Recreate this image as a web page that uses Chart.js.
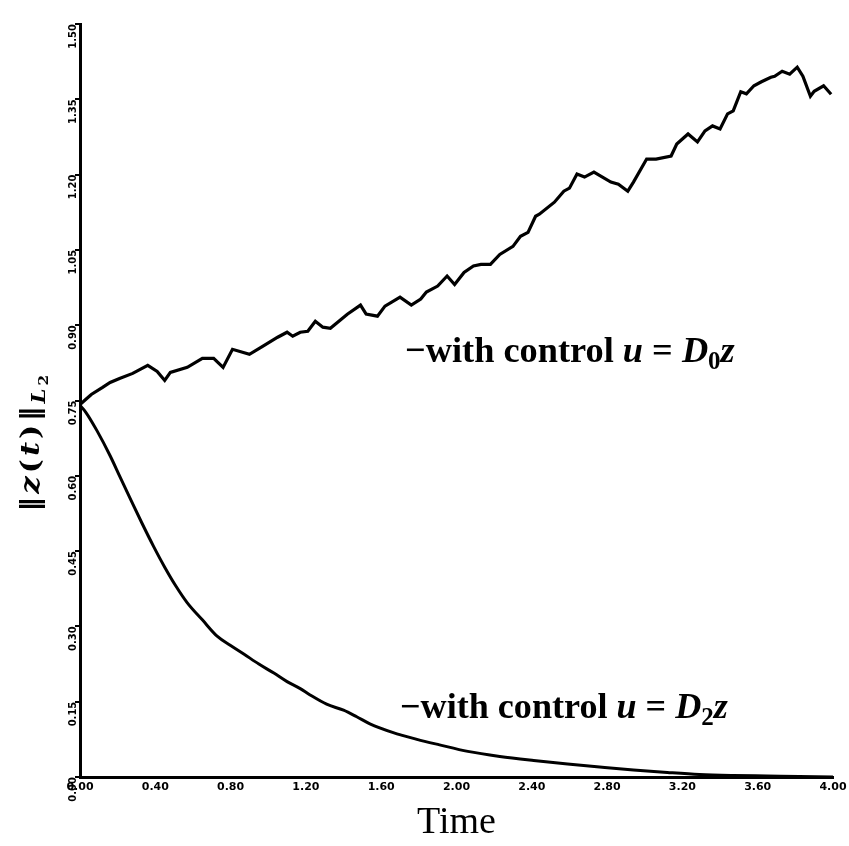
<!DOCTYPE html>
<html><head><meta charset="utf-8">
<script src="https://cdn.jsdelivr.net/npm/chart.js@4.4.0/dist/chart.umd.min.js"></script>
<style>html,body{margin:0;padding:0;background:#fff;}</style>
</head><body>
<canvas id="c" width="849" height="846"></canvas>
<script>
// ---- data ----
const timeUpper = [0,0.03,0.06,0.12,0.16,0.21,0.28,0.36,0.41,0.45,0.48,0.57,0.65,0.71,0.76,0.81,0.90,0.97,1.05,1.10,1.13,1.17,1.21,1.25,1.29,1.33,1.42,1.49,1.52,1.58,1.62,1.70,1.76,1.81,1.84,1.90,1.95,1.99,2.04,2.09,2.13,2.18,2.23,2.30,2.34,2.38,2.42,2.44,2.52,2.57,2.60,2.64,2.68,2.73,2.82,2.86,2.91,2.94,3.01,3.06,3.14,3.17,3.23,3.28,3.32,3.36,3.40,3.44,3.47,3.51,3.54,3.58,3.62,3.67,3.69,3.73,3.77,3.81,3.84,3.88,3.90,3.95,3.99];
const normUpper = [0.742,0.752,0.762,0.776,0.786,0.794,0.804,0.820,0.808,0.790,0.806,0.816,0.834,0.834,0.816,0.852,0.842,0.858,0.876,0.886,0.878,0.886,0.888,0.908,0.896,0.894,0.922,0.940,0.922,0.918,0.938,0.956,0.940,0.952,0.966,0.978,0.998,0.981,1.005,1.018,1.021,1.021,1.041,1.057,1.077,1.085,1.117,1.121,1.145,1.167,1.173,1.201,1.195,1.205,1.185,1.181,1.167,1.185,1.231,1.231,1.237,1.261,1.281,1.265,1.287,1.297,1.291,1.321,1.327,1.365,1.361,1.377,1.385,1.394,1.396,1.406,1.400,1.414,1.396,1.356,1.366,1.377,1.360];
const timeLower = [0,0.03,0.09,0.16,0.21,0.27,0.33,0.39,0.45,0.51,0.57,0.65,0.73,0.80,0.87,0.95,1.03,1.10,1.17,1.22,1.31,1.40,1.47,1.54,1.66,1.79,1.91,2.06,2.23,2.41,2.59,2.76,2.94,3.12,3.29,3.47,3.65,3.82,4.00];
const normLower = [0.740,0.727,0.690,0.640,0.600,0.552,0.505,0.460,0.418,0.380,0.347,0.313,0.280,0.262,0.245,0.225,0.207,0.190,0.176,0.164,0.145,0.133,0.120,0.106,0.089,0.075,0.064,0.051,0.041,0.033,0.026,0.020,0.014,0.009,0.005,0.003,0.002,0.001,0.000];
const xTicks = [0,0.4,0.8,1.2,1.6,2.0,2.4,2.8,3.2,3.6,4.0];
const yTicks = [0,0.15,0.30,0.45,0.60,0.75,0.90,1.05,1.20,1.35,1.50];
const xTitle = 'Time';
const labelUpper = [['−with control ','b'],['u','i'],[' = ','n'],['D','i'],['0','sub'],['z','i']];
const labelLower = [['−with control ','b'],['u','i'],[' = ','n'],['D','i'],['2','sub'],['z','i']];
const yTitle = [['‖','r'],['z','ri'],['(','r'],['t','ri'],[')','r'],['‖','r'],['L','isub'],['2','subsub']];

const SERIF = '"Liberation Serif", "DejaVu Serif", serif';
const SERIF2 = '"DejaVu Serif", "Liberation Serif", serif';
function fontFor(kind, size) {
  switch (kind) {
    case 'b': return `bold ${size}px ${SERIF}`;
    case 'i': return `italic bold ${size}px ${SERIF}`;
    case 'n': return `bold ${size}px ${SERIF}`;
    case 'r': return `bold ${size}px ${SERIF2}`;
    case 'ri': return `italic bold ${size}px ${SERIF2}`;
    case 'sub': return `bold ${Math.round(size*0.7)}px ${SERIF}`;
    case 'isub': return `italic bold ${Math.round(size*0.7)}px ${SERIF2}`;
    case 'subsub': return `bold ${Math.round(size*0.5)}px ${SERIF2}`;
  }
}
function dyFor(kind, size) {
  if (kind === 'sub') return size*0.2;
  if (kind === 'isub') return size*0.22;
  if (kind === 'subsub') return size*0.33;
  return 0;
}
function richWidth(ctx, segs, size, gap) {
  let w = 0;
  segs.forEach(([t,k]) => { ctx.font = fontFor(k,size); w += ctx.measureText(t).width + (gap||0); });
  return w;
}
function drawRich(ctx, segs, x, y, size, targetW, gap) {
  ctx.save();
  gap = gap || 0;
  if (targetW) { size = size*targetW/richWidth(ctx, segs, size); }
  let cx = x;
  ctx.textBaseline = 'alphabetic';
  ctx.fillStyle = '#000';
  segs.forEach(([t,k]) => {
    ctx.font = fontFor(k,size);
    ctx.fillText(t, cx, y + dyFor(k,size));
    cx += ctx.measureText(t).width + gap;
  });
  ctx.restore();
}

const textPlugin = {
  id: 'texts',
  afterDraw(chart) {
    const ctx = chart.ctx;
    drawRich(ctx, labelUpper, 405, 362, 26, 330);
    drawRich(ctx, labelLower, 400, 718, 26, 328);
    ctx.save();
    const size = 26, gap = 2.5;
    const w = richWidth(ctx, yTitle, size, gap);
    const sx = 140 / w;
    ctx.translate(39, 442);
    ctx.rotate(-Math.PI/2);
    ctx.scale(sx, 1);
    drawRich(ctx, yTitle, -w/2, 0, size, null, gap);
    ctx.restore();
  }
};

new Chart(document.getElementById('c'), {
  type: 'line',
  data: {
    datasets: [
      { label: 'u = D0 z', data: timeUpper.map((t,i)=>({x:t,y:normUpper[i]})), borderColor:'#000', borderWidth:3.2, pointRadius:0, tension:0, fill:false },
      { label: 'u = D2 z', data: timeLower.map((t,i)=>({x:t,y:normLower[i]})), borderColor:'#000', borderWidth:3, pointRadius:0, tension:0.4, cubicInterpolationMode:'monotone', fill:false }
    ]
  },
  options: {
    responsive: false,
    animation: false,
    layout: { padding: { left: 0, right: 16, top: 24, bottom: 0 } },
    plugins: { legend: { display: false }, tooltip: { enabled: false } },
    scales: {
      x: {
        type: 'linear', min: 0, max: 4,
        afterBuildTicks: s => { s.ticks = xTicks.map(v => ({ value: v })); },
        afterFit: s => { s.height = 69; },
        ticks: { callback: v => v.toFixed(2), color: '#000', font: { family: 'DejaVu Sans', weight: 'bold', size: 11 }, padding: 2, maxRotation: 0, minRotation: 0 },
        grid: { display: true, drawOnChartArea: false, drawTicks: true, tickLength: 2, color: '#000', lineWidth: 2 },
        border: { display: true, color: '#000', width: 3 },
        title: { display: true, text: xTitle, color: '#000', font: { family: SERIF, size: 38 }, padding: { top: 5, bottom: 0 } }
      },
      y: {
        type: 'linear', min: 0, max: 1.5,
        afterBuildTicks: s => { s.ticks = yTicks.map(v => ({ value: v })); },
        afterFit: s => { s.width = 80; },
        ticks: { callback: v => v.toFixed(2), color: '#000', font: { family: 'DejaVu Sans', weight: 'bold', size: 10 }, padding: 2, minRotation: 90, maxRotation: 90 },
        grid: { display: true, drawOnChartArea: false, drawTicks: true, tickLength: 5, color: '#000', lineWidth: 2 },
        border: { display: true, color: '#000', width: 3 }
      }
    }
  },
  plugins: [textPlugin]
});
</script>
</body></html>
